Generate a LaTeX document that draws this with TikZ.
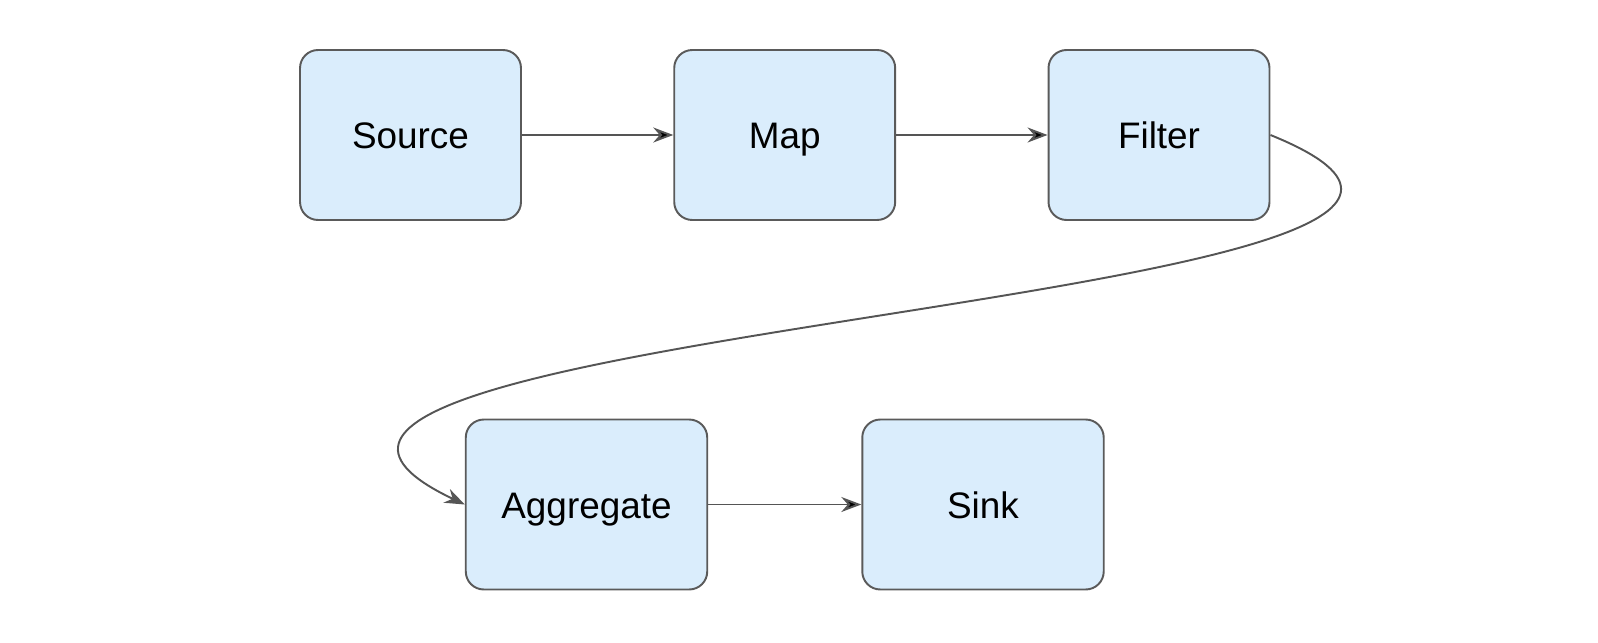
\documentclass[tikz,border=0pt]{standalone}
\usepackage{fontspec}
\setmainfont{Liberation Sans}
\usetikzlibrary{arrows.meta}
\definecolor{boxfill}{RGB}{218,237,252}
\definecolor{boxline}{RGB}{90,90,90}
\definecolor{flow}{RGB}{85,85,85}

\begin{document}
\begin{tikzpicture}[x=0.02cm, y=-0.02cm, ->, >={Stealth[length=0.4cm,width=0.3cm]}, line width=1.1pt] % pixel grid
  \tikzstyle{stage}=[rectangle, rounded corners=0.36cm, draw=boxline, fill=boxfill, minimum width=4.42cm, minimum height=3.4cm, text height=0.63cm, text depth=0.07cm, font=\fontsize{21}{25}\selectfont, text=black]
  \tikzstyle{wide}=[minimum width=4.83cm]

  \useasboundingbox (0,0) rectangle (1598,642);

	\node[stage]       (Src) at (410.5,135) {Source};
	\node[stage]       (Map) at (784.7,135) {Map};
	\node[stage]       (Flt) at (1159,135) {Filter};
	\node[stage, wide] (Agg) at (586.5,504.5) {Aggregate};
	\node[stage, wide] (Snk) at (983,504.5) {Sink};

	\path[draw=flow]
		(Src) edge (Map)
		(Map) edge (Flt)
		(Agg) edge (Snk)
		;
	\draw[flow] (Flt.east) .. controls +(420,170) and +(-380,-180) .. (Agg.west);

\end{tikzpicture}
\end{document}
